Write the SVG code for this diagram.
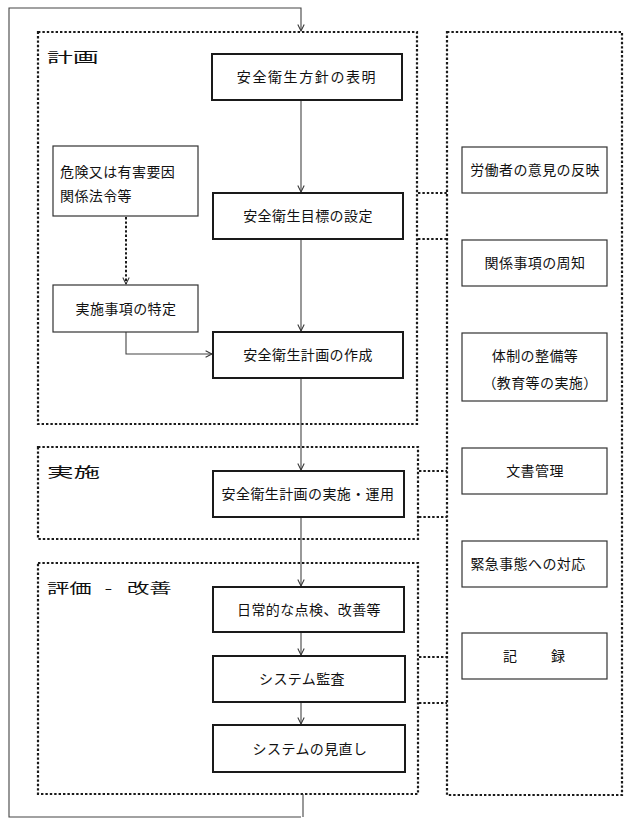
<svg xmlns="http://www.w3.org/2000/svg" width="631" height="827" viewBox="0 0 631 827">
<style>
.bg{fill:#fff}
.thick{fill:#fff;stroke:#1a1a1a;stroke-width:2}
.thin{fill:#fff;stroke:#333;stroke-width:1.2}
.dot{fill:none;stroke:#1a1a1a;stroke-width:2.2;stroke-dasharray:2.4 2}
.ln{fill:none;stroke:#444;stroke-width:1.1}
.dln{fill:none;stroke:#1a1a1a;stroke-width:2;stroke-dasharray:2.4 2}
text{font-family:"Noto Sans CJK JP","Noto Sans CJK SC",sans-serif;font-size:14px;fill:#111;letter-spacing:0.4px}
.c{text-anchor:middle}
.lab{font-size:14px;letter-spacing:0}
</style>
<defs>
<marker id="ah" viewBox="0 0 10 10" refX="9" refY="5" markerWidth="8" markerHeight="8" markerUnits="userSpaceOnUse" orient="auto">
<path d="M1,1 L9,5 L1,9" fill="none" stroke="#333" stroke-width="1.3"/>
</marker>
</defs>
<rect class="bg" x="0" y="0" width="631" height="827"/>

<g id="group-plan">
<rect class="dot" x="38" y="32" width="379" height="392"/>
<text class="lab" transform="translate(47,62) scale(1.85,1)">計画</text>
</g>
<g id="group-impl">
<rect class="dot" x="38" y="447" width="380" height="92"/>
<text class="lab" transform="translate(47,477) scale(1.9,1)">実施</text>
</g>
<g id="group-eval">
<rect class="dot" x="38" y="563" width="380" height="231"/>
<text class="lab" transform="translate(47,593) scale(1.6,1)">評価<tspan x="36">-</tspan><tspan x="50">改善</tspan></text>
</g>
<g id="group-support">
<rect class="dot" x="447" y="32" width="175" height="763"/>
</g>

<g id="connectors">
<polyline class="ln" points="301,817 9,817 9,8 301,8 301,31" marker-end="url(#ah)"/>
<line class="ln" x1="303" y1="794" x2="303" y2="817"/>
<line class="ln" x1="301" y1="100" x2="301" y2="192" marker-end="url(#ah)"/>
<line class="ln" x1="301" y1="239" x2="301" y2="331" marker-end="url(#ah)"/>
<line class="ln" x1="301" y1="378" x2="301" y2="470" marker-end="url(#ah)"/>
<line class="ln" x1="301" y1="517" x2="301" y2="586" marker-end="url(#ah)"/>
<line class="ln" x1="301" y1="632" x2="301" y2="655" marker-end="url(#ah)"/>
<line class="ln" x1="301" y1="702" x2="301" y2="724" marker-end="url(#ah)"/>
<line class="dln" x1="126" y1="217" x2="126" y2="284" marker-end="url(#ah)"/>
<polyline class="ln" points="126,332 126,354 212,354" marker-end="url(#ah)"/>
<line class="dln" x1="418" y1="193" x2="447" y2="193"/>
<line class="dln" x1="418" y1="239" x2="447" y2="239"/>
<line class="dln" x1="419" y1="471" x2="447" y2="471"/>
<line class="dln" x1="419" y1="517" x2="447" y2="517"/>
<line class="dln" x1="419" y1="657" x2="447" y2="657"/>
<line class="dln" x1="419" y1="703" x2="447" y2="703"/>
</g>

<g id="n-policy"><rect class="thick" x="212" y="54" width="190" height="46"/><text class="c" x="307" y="82" style="letter-spacing:1.6px">安全衛生方針の表明</text></g>
<g id="n-goal"><rect class="thick" x="213" y="193" width="190" height="46"/><text class="c" x="308" y="221">安全衛生目標の設定</text></g>
<g id="n-hazard"><rect class="thin" x="53" y="146" width="145" height="70"/><text x="60" y="177">危険又は有害要因</text><text x="60" y="201">関係法令等</text></g>
<g id="n-items"><rect class="thin" x="53" y="285" width="145" height="47"/><text class="c" x="126" y="314">実施事項の特定</text></g>
<g id="n-plan"><rect class="thick" x="213" y="332" width="190" height="46"/><text class="c" x="308" y="360">安全衛生計画の作成</text></g>
<g id="n-exec"><rect class="thick" x="213" y="471" width="191" height="46"/><text class="c" x="308" y="499">安全衛生計画の実施・運用</text></g>
<g id="n-daily"><rect class="thick" x="213" y="587" width="191" height="45"/><text class="c" x="309" y="615">日常的な点検、改善等</text></g>
<g id="n-audit"><rect class="thick" x="213" y="656" width="192" height="46"/><text class="c" x="302" y="684">システム監査</text></g>
<g id="n-review"><rect class="thick" x="213" y="725" width="192" height="47"/><text class="c" x="310" y="754">システムの見直し</text></g>

<g id="n-opinion"><rect class="thin" x="462" y="147" width="145" height="46"/><text class="c" x="535" y="175">労働者の意見の反映</text></g>
<g id="n-notice"><rect class="thin" x="462" y="240" width="145" height="46"/><text class="c" x="535" y="268">関係事項の周知</text></g>
<g id="n-system"><rect class="thin" x="462" y="333" width="145" height="68"/><text class="c" x="535" y="361">体制の整備等</text><text class="c" x="540" y="388">（教育等の実施）</text></g>
<g id="n-docs"><rect class="thin" x="462" y="448" width="145" height="46"/><text class="c" x="535" y="476">文書管理</text></g>
<g id="n-emergency"><rect class="thin" x="462" y="541" width="145" height="46"/><text class="c" x="528" y="569">緊急事態への対応</text></g>
<g id="n-record"><rect class="thin" x="462" y="633" width="145" height="46"/><text x="503" y="661">記</text><text x="551" y="661">録</text></g>
</svg>
